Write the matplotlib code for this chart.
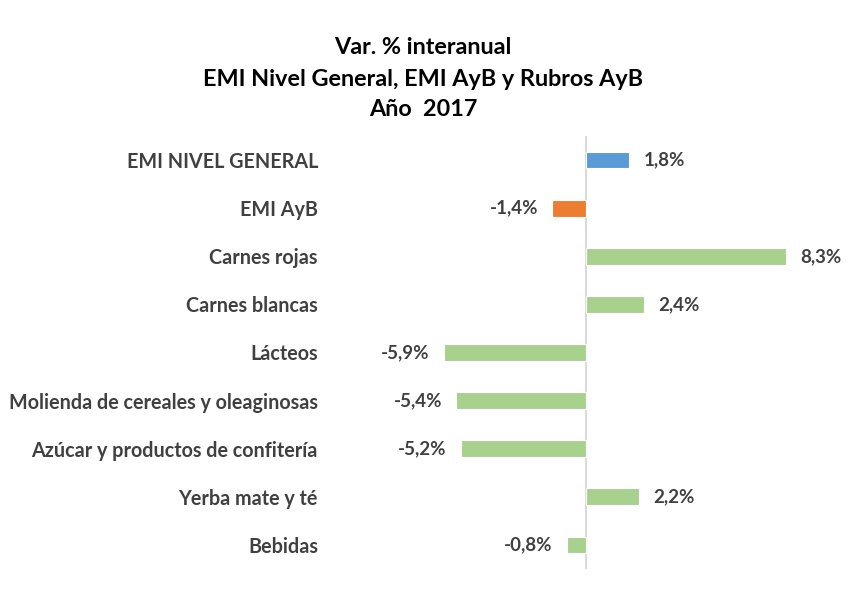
import matplotlib
matplotlib.use("Agg")
import matplotlib.pyplot as plt

categories = ["EMI NIVEL GENERAL", "EMI AyB", "Carnes rojas", "Carnes blancas", "Lácteos",
              "Molienda de cereales y oleaginosas", "Azúcar y productos de confitería",
              "Yerba mate y té", "Bebidas"]
values = [1.8, -1.4, 8.3, 2.4, -5.9, -5.4, -5.2, 2.2, -0.8]
colors = ["#5B9BD5", "#ED7D31"] + ["#A9D18E"] * 7
title_lines = ["Var. % interanual", "EMI Nivel General, EMI AyB y Rubros AyB", "Año  2017"]

plt.rcParams['font.family'] = ['Lato', 'DejaVu Sans']
txt = "#404040"

fig = plt.figure(figsize=(8.48, 5.9), dpi=100)
ax = fig.add_axes([345/848, 1 - 569/590, 458/848, 433/590])

y = list(range(len(categories)))
ax.barh(y, values, height=0.35, color=colors, edgecolor="white", linewidth=0.8, zorder=2)
ax.set_ylim(len(categories) - 0.5, -0.5)
ax.set_xlim(-10, 9)

for yi, v in zip(y, values):
    lab = f"{v:.1f}%".replace(".", ",")
    if v >= 0:
        ax.annotate(lab, (v, yi), xytext=(14, 0), textcoords="offset pixels",
                    ha="left", va="center", fontsize=13.5, fontweight="bold", color=txt)
    else:
        ax.annotate(lab, (v, yi), xytext=(-14, 0), textcoords="offset pixels",
                    ha="right", va="center", fontsize=13.5, fontweight="bold", color=txt)

ax.set_yticks(y)
ax.set_yticklabels(categories, fontsize=14.2, fontweight="bold", color=txt)
ax.tick_params(axis="y", length=0, pad=19.5)
ax.set_xticks([])
for s in ["top", "right", "bottom", "left"]:
    ax.spines[s].set_visible(False)
ax.axvline(0, color="#D9D9D9", linewidth=1.5, zorder=1)

for i, t in enumerate(title_lines):
    fig.text(423/848, 1 - (48 + i * 31) / 590, t, ha="center", va="center",
             fontsize=16.8, fontweight="bold", color="black")

fig.savefig("out.png", dpi=100)
